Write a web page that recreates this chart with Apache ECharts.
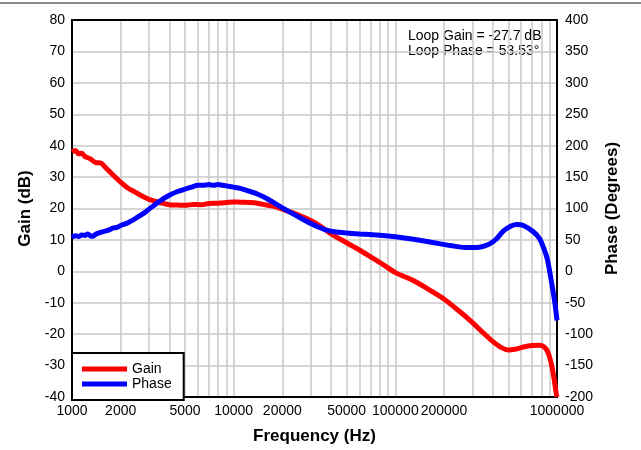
<!DOCTYPE html>
<html>
<head>
<meta charset="utf-8">
<script src="https://cdn.jsdelivr.net/npm/echarts@6/dist/echarts.min.js"></script>
<style>
html,body{margin:0;padding:0;background:#fff;}
#chart{width:641px;height:450px;}
</style>
</head>
<body>
<div id="chart"></div>
<script>
// Frequency (Hz) and gain (dB)
var gainFreq = [1000,1050,1100,1150,1200,1300,1400,1500,1600,1800,2000,2200,2500,2800,3200,3600,4000,4500,5000,5600,6300,7000,8000,9000,10000,11000,12500,14000,16000,18000,20000,23000,26000,30000,35000,41000,50000,60000,70000,85000,100000,130000,170000,200000,250000,300000,350000,400000,450000,500000,550000,620000,700000,780000,830000,870000,900000,930000,960000,990000,1000000];
var gainDb = [38.0,38.5,37.4,37.6,36.6,35.8,34.6,34.5,33.2,30.6,28.4,26.6,25.0,23.6,22.4,21.7,21.2,21.1,21.0,21.3,21.2,21.6,21.7,21.9,22.1,22.0,21.9,21.7,21.1,20.6,19.8,18.7,17.6,16.2,14.1,11.6,9.1,6.8,4.7,2.0,-0.4,-3.0,-6.5,-8.8,-12.8,-16.3,-19.6,-22.3,-24.2,-25.0,-24.8,-24.1,-23.6,-23.5,-24.0,-25.3,-27.3,-30.3,-34.3,-39.0,-40.0];
// Frequency (Hz) and phase (degrees)
var phaseFreq = [1000,1050,1100,1150,1200,1250,1300,1350,1400,1500,1600,1700,1800,1900,2000,2200,2500,2800,3000,3500,4000,4500,5000,5500,6000,6500,7000,7500,8000,8500,9000,10000,11000,12000,14000,16000,18000,20000,22000,25000,28000,30000,33000,37000,42000,50000,60000,70000,80000,100000,130000,170000,220000,270000,330000,380000,420000,465000,520000,562000,620000,714000,780000,824000,870000,905000,940000,972000,1000000];
var phaseDeg = [54,56.5,55.5,58,57,59.5,56.5,56,59,62,64,66,69,70,73,77,85,93,99,112,121,127,131,134,137,137,138,137,138,137,136,134,132,129,123,116,108,101,95,87,80,76,71,66,63,61,59.5,58.5,57.5,55,51,46,41,38,38.5,43,51,64,72,74.7,73,63,52,38,20,-3,-28,-52,-78];
// Axis tick labels
var xLabelValues = [1000,2000,5000,10000,20000,50000,100000,200000,1000000];
var gainTicks = {min:-40, max:80, interval:10};
var phaseTicks = {min:-200, max:400, interval:50};

var gridFreqs = [];
for (var d = 1000; d <= 100000; d *= 10) {
  for (var k = 1; k <= 9; k++) gridFreqs.push(k * d);
}
gridFreqs.push(1000000);

function toLog(f){ return Math.log10(f); }
function pairs(fs, vs){ return fs.map(function(f,i){ return [toLog(f), vs[i]]; }); }

var FONT = 'Liberation Sans, Arial, sans-serif';
var chart = echarts.init(document.getElementById('chart'), null, {renderer:'canvas'});
chart.setOption({
  animation: false,
  backgroundColor: '#fff',
  textStyle: {fontFamily: FONT},
  grid: {left:72, right:84, top:20, bottom:50, show:true, borderColor:'#000', borderWidth:2, backgroundColor:'transparent', z:3},
  xAxis: {
    type:'value', min:3, max:6,
    name:'Frequency (Hz)', nameLocation:'middle', nameGap:31,
    nameTextStyle:{fontSize:17, fontWeight:'bold', color:'#000', fontFamily:FONT},
    axisLine:{show:true, onZero:false, lineStyle:{color:'#000', width:2}},
    axisTick:{show:false, customValues: gridFreqs.map(toLog)},
    axisLabel:{customValues: xLabelValues.map(toLog), hideOverlap:false, fontSize:14, color:'#000', margin:7, fontFamily:FONT,
      formatter:function(v){ return String(Math.round(Math.pow(10, v))); }},
    splitLine:{show:true, lineStyle:{color:'#c8c8c8', width:1.5}}
  },
  yAxis: [{
    type:'value', min:gainTicks.min, max:gainTicks.max, interval:gainTicks.interval,
    name:'Gain (dB)', nameLocation:'middle', nameGap:33,
    nameTextStyle:{fontSize:17, fontWeight:'bold', color:'#000', fontFamily:FONT},
    axisLine:{show:true, lineStyle:{color:'#000', width:2}},
    axisTick:{show:false},
    axisLabel:{fontSize:14, color:'#000', margin:7, fontFamily:FONT},
    splitLine:{show:true, lineStyle:{color:'#c8c8c8', width:1.5}}
  },{
    type:'value', min:phaseTicks.min, max:phaseTicks.max, interval:phaseTicks.interval,
    position:'right',
    name:'Phase (Degrees)', nameLocation:'middle', nameGap:47,
    nameTextStyle:{fontSize:17, fontWeight:'bold', color:'#000', fontFamily:FONT},
    axisLine:{show:true, lineStyle:{color:'#000', width:2}},
    axisTick:{show:false},
    axisLabel:{fontSize:14, color:'#000', margin:8, fontFamily:FONT},
    splitLine:{show:false}
  }],
  legend: {
    orient:'vertical', left:72, bottom:50,
    data:['Gain','Phase'],
    icon:'rect', itemWidth:45, itemHeight:5, itemGap:1,
    padding:[9,12,9,10],
    backgroundColor:'#fff', borderColor:'#000', borderWidth:2, borderRadius:0,
    textStyle:{fontSize:14, color:'#000', fontFamily:FONT}
  },
  graphic: [
    {type:'line', shape:{x1:0, y1:3, x2:641, y2:3}, style:{stroke:'#666', lineWidth:1.5}},
    {type:'text', left:408, top:29, style:{text:'Loop Gain = -27.7 dB\nLoop Phase = 53.53°', font:'14px Liberation Sans, Arial, sans-serif', fill:'#000', lineHeight:15}}
  ],
  series: [{
    name:'Gain', type:'line', yAxisIndex:0, data:pairs(gainFreq, gainDb),
    showSymbol:false, smooth:0.3, lineStyle:{color:'#ff0000', width:5}, itemStyle:{color:'#ff0000'}, z:4
  },{
    name:'Phase', type:'line', yAxisIndex:1, data:pairs(phaseFreq, phaseDeg),
    showSymbol:false, smooth:0.3, lineStyle:{color:'#0000ff', width:5}, itemStyle:{color:'#0000ff'}, z:5
  }]
});
</script>
</body>
</html>
